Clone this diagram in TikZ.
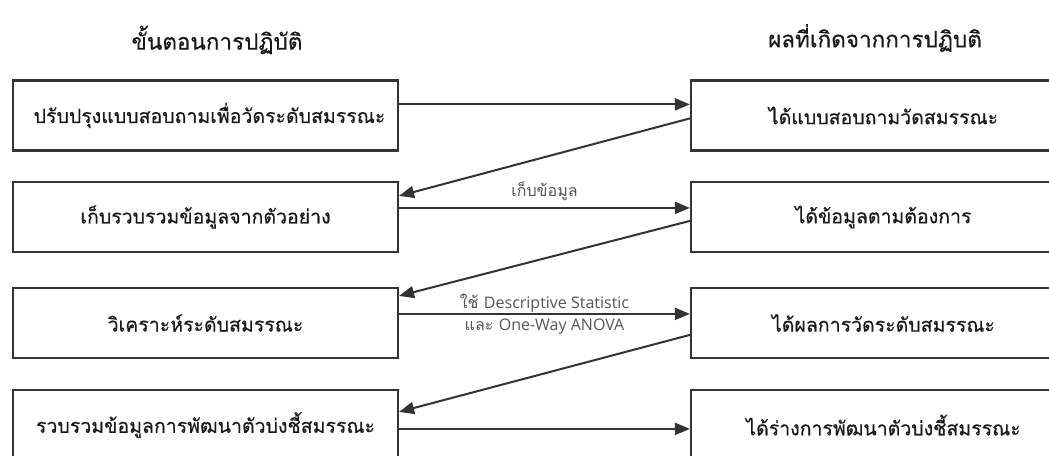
\documentclass[tikz,border=0pt]{standalone}
\usepackage{fontspec}
\newfontfamily\thai[Script=Thai]{Loma}
\newfontfamily\thaiheavy[Script=Thai,FakeBold=0.4]{Loma}
\newfontfamily\lat{Open Sans}
\usetikzlibrary{arrows.meta}
\definecolor{ink}{HTML}{333333}
\definecolor{note}{HTML}{555555}
\begin{document}
\begin{tikzpicture}[x=1pt,y=-1pt,
  stepbox/.style={draw=ink,line width=2.2pt,fill=white,minimum width=385pt,minimum height=70pt,inner sep=0pt,text=black!90,font=\thaiheavy\fontsize{19.5}{22}\selectfont},
  head/.style={font=\thaiheavy\fontsize{22.5}{26}\selectfont,inner sep=0pt,text=black!90},
  link/.style={draw=ink,line width=2pt,-{Triangle[length=15pt,width=12pt]}},
  lbl/.style={text=note,font=\fontsize{16}{19}\selectfont,inner sep=0pt,align=center}]
\useasboundingbox (0,0) rectangle (1049,455);
\clip (0,0) rectangle (1049,455);
\fill[white] (0,0) rectangle (1049,455);

% column headings
\node[head] (hl) at (217,40) {ขั้นตอนการปฏิบัติ};
\node[head] (hr) at (875,38) {ผลที่เกิดจากการปฏิบติ};

% steps (left) and outcomes (right)
\node[stepbox] (l1) at (205.5,115.5) {\hspace{8pt}ปรับปรุงแบบสอบถามเพื่อวัดระดับสมรรณะ};
\node[stepbox] (l2) at (205.5,217) {เก็บรวบรวมข้อมูลจากตัวอย่าง};
\node[stepbox] (l3) at (205.5,323) {วิเคราะห์ระดับสมรรณะ};
\node[stepbox] (l4) at (205.5,425) {รวบรวมข้อมูลการพัฒนาตัวบ่งชี้สมรรณะ};

\node[stepbox] (r1) at (883.5,115.5) {ได้แบบสอบถามวัดสมรรณะ};
\node[stepbox] (r2) at (883.5,217) {ได้ข้อมูลตามต้องการ};
\node[stepbox] (r3) at (883.5,323) {ได้ผลการวัดระดับสมรรณะ};
\node[stepbox] (r4) at (883.5,425) {ได้ร่างการพัฒนาตัวบ่งชี้สมรรณะ};

% step -> outcome
\draw[link] ([yshift=-25pt]l1.north east) -- ([yshift=-25pt]r1.north west);
\draw[link] ([yshift=-27pt]l2.north east) -- ([yshift=-27pt]r2.north west)
  node[lbl,midway,above=6pt] {\thai เก็บข้อมูล};
\draw[link] ([yshift=-27pt]l3.north east) -- ([yshift=-27pt]r3.north west)
  node[lbl,midway,above=1pt] {\thai ใช้ \lat Descriptive Statistic}
  node[lbl,midway,below=4pt] {\thai และ \lat One-Way ANOVA};
\draw[link] ([yshift=-40pt]l4.north east) -- ([yshift=-40pt]r4.north west);

% outcome -> next step
\draw[link] ([yshift=-39pt]r1.north west) -- ([yshift=-15pt]l2.north east);
\draw[link] ([yshift=-40pt]r2.north west) -- ([yshift=-9pt]l3.north east);
\draw[link] ([yshift=-48pt]r3.north west) -- ([yshift=-23pt]l4.north east);
\end{tikzpicture}
\end{document}
